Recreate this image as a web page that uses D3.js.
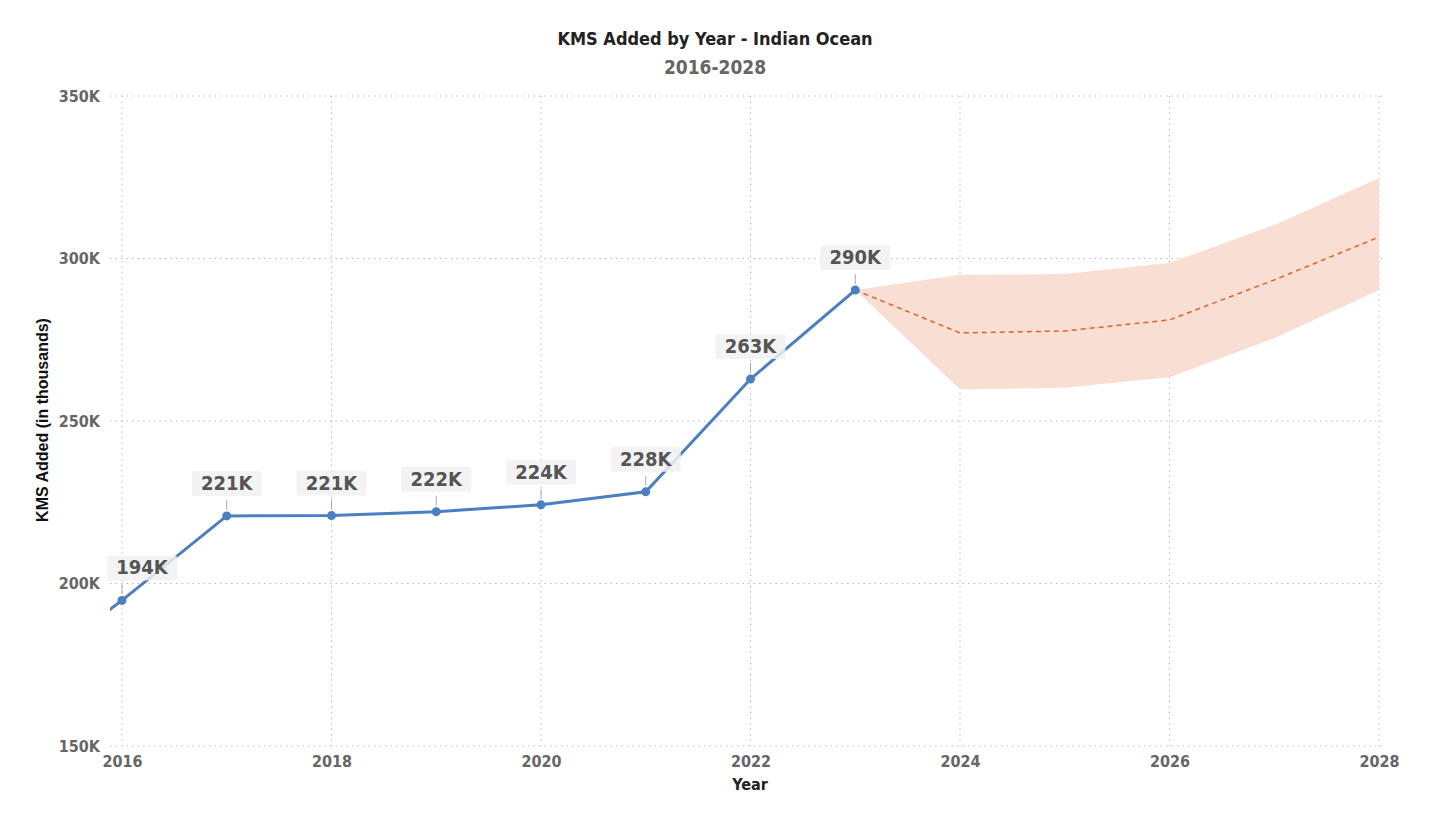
<!DOCTYPE html>
<html>
<head>
<meta charset="utf-8">
<script src="https://cdn.jsdelivr.net/npm/d3@7"></script>
<style>
  body { margin: 0; background: #fff; }
  text { font-family: "DejaVu Sans Condensed", "DejaVu Sans", sans-serif; }
</style>
</head>
<body>
<svg id="svg" width="1429" height="825"></svg>
<script>
var years = [2015, 2016, 2017, 2018, 2019, 2020, 2021, 2022, 2023];
var kms = [171, 194.8, 220.8, 220.9, 222.1, 224.2, 228.2, 262.9, 290.3];
var labels = ["", "194K", "221K", "221K", "222K", "224K", "228K", "263K", "290K"];

var fcYears = [2023, 2024, 2025, 2026, 2027, 2028];
var fcMid = [290.3, 277.1, 277.7, 281.1, 293.4, 306.6];
var fcLow = [290.3, 259.8, 260.2, 263.5, 275.5, 290.3];
var fcHigh = [290.3, 295.0, 295.2, 298.6, 310.3, 324.8];

var xTicks = [2016, 2018, 2020, 2022, 2024, 2026, 2028];
var yTicks = [150, 200, 250, 300, 350];

var svg = d3.select("#svg");
var pLeft = 110, pRight = 1385, pTop = 96, pBottom = 746;

var x = d3.scaleLinear().domain([2016, 2028]).range([122, 1379]);
var y = d3.scaleLinear().domain([150, 350]).range([pBottom, pTop]);

svg.append("defs").append("clipPath").attr("id", "plot")
  .append("rect").attr("x", pLeft).attr("y", 0).attr("width", pRight - pLeft).attr("height", 825);

// gridlines
svg.append("g").selectAll("line").data(yTicks).enter().append("line")
  .attr("x1", pLeft).attr("x2", pRight)
  .attr("y1", function (d) { return y(d); }).attr("y2", function (d) { return y(d); })
  .style("stroke", "#bbb").style("stroke-width", 1).style("stroke-dasharray", "1.5,4");
svg.append("g").selectAll("line").data(xTicks).enter().append("line")
  .attr("x1", function (d) { return x(d); }).attr("x2", function (d) { return x(d); })
  .attr("y1", pTop).attr("y2", pBottom)
  .style("stroke", "#bbb").style("stroke-width", 1).style("stroke-dasharray", "1.5,4");

// axes labels
var yAxis = d3.axisLeft(y).tickValues(yTicks).tickSize(0).tickPadding(0)
  .tickFormat(function (d) { return d + "K"; });
var gy = svg.append("g").attr("transform", "translate(100,0)").call(yAxis);
gy.select(".domain").remove();
gy.selectAll("text").style("font-size", "16px").style("font-weight", "bold").style("fill", "#666")
  .attr("font-family", null);

var xAxis = d3.axisBottom(x).tickValues(xTicks).tickSize(0).tickPadding(0)
  .tickFormat(d3.format("d"));
var gx = svg.append("g").attr("transform", "translate(0,756)").call(xAxis);
gx.select(".domain").remove();
gx.selectAll("text").style("font-size", "16px").style("font-weight", "bold").style("fill", "#666")
  .attr("font-family", null);

// forecast band
var band = d3.area()
  .x(function (d, i) { return x(fcYears[i]); })
  .y0(function (d, i) { return y(fcLow[i]); })
  .y1(function (d, i) { return y(fcHigh[i]); });
svg.append("path").datum(fcYears).attr("d", band)
  .style("fill", "#f9dfd3").style("stroke", "none");

var mid = d3.line()
  .x(function (d, i) { return x(fcYears[i]); })
  .y(function (d, i) { return y(fcMid[i]); });
svg.append("path").datum(fcYears).attr("d", mid)
  .style("fill", "none").style("stroke", "#e0622a").style("stroke-width", 1.5)
  .style("stroke-dasharray", "5,4");

// actual line
var line = d3.line()
  .x(function (d, i) { return x(years[i]); })
  .y(function (d, i) { return y(kms[i]); });
var plot = svg.append("g").attr("clip-path", "url(#plot)");
plot.append("path").datum(years).attr("d", line)
  .style("fill", "none").style("stroke", "#4a7fc1").style("stroke-width", 3);

var pts = years.map(function (d, i) { return { year: d, v: kms[i], label: labels[i] }; })
  .filter(function (d) { return d.label !== ""; });

plot.selectAll("circle").data(pts).enter().append("circle")
  .attr("cx", function (d) { return x(d.year); })
  .attr("cy", function (d) { return y(d.v); })
  .attr("r", 4.5)
  .style("fill", "#4a7fc1");

// data labels
var lab = svg.append("g").selectAll("g").data(pts).enter().append("g");
lab.append("line")
  .attr("x1", function (d) { return x(d.year); }).attr("x2", function (d) { return x(d.year); })
  .attr("y1", function (d) { return y(d.v) - 16; }).attr("y2", function (d) { return y(d.v) - 6; })
  .style("stroke", "#aaa").style("stroke-width", 1);
var boxW = 70, boxH = 25;
function cx(d) { return Math.max(x(d.year), pLeft - 3 + boxW / 2); }
lab.append("rect")
  .attr("x", function (d) { return cx(d) - boxW / 2; })
  .attr("y", function (d) { return y(d.v) - 20 - boxH; })
  .attr("width", boxW).attr("height", boxH).attr("rx", 2)
  .style("fill", "#f1f1f1").style("opacity", 0.85);
lab.append("text")
  .attr("x", cx)
  .attr("y", function (d) { return y(d.v) - 26; })
  .attr("text-anchor", "middle")
  .style("font-size", "20px").style("font-weight", "bold").style("fill", "#555")
  .text(function (d) { return d.label; });

// titles
svg.append("text").attr("x", 715).attr("y", 45).attr("text-anchor", "middle")
  .style("font-size", "18px").style("font-weight", "bold").style("fill", "#222")
  .text("KMS Added by Year - Indian Ocean");
svg.append("text").attr("x", 715).attr("y", 74).attr("text-anchor", "middle")
  .style("font-size", "19px").style("font-weight", "bold").style("fill", "#666")
  .text("2016-2028");
svg.append("text").attr("x", 750).attr("y", 790).attr("text-anchor", "middle")
  .style("font-size", "16px").style("font-weight", "bold").style("fill", "#222")
  .text("Year");
svg.append("text").attr("transform", "translate(48,420) rotate(-90)").attr("text-anchor", "middle")
  .style("font-family", "'Liberation Sans', Arial, sans-serif")
  .style("font-size", "16px").style("font-weight", "bold").style("fill", "#111")
  .text("KMS Added (in thousands)");
</script>
</body>
</html>
